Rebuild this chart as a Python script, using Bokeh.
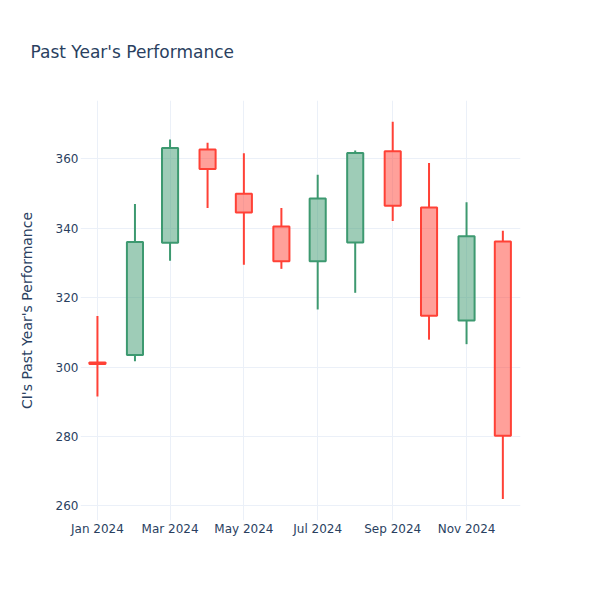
import numpy as np
import pandas as pd
from bokeh.plotting import figure
from bokeh.models import Range1d, MonthsTicker, DatetimeTickFormatter, FixedTicker, ColumnDataSource
from bokeh.embed import file_html
from bokeh.resources import INLINE

# ---- data (monthly candles) ----
dates = ["2024-01-01", "2024-02-01", "2024-03-01", "2024-04-01", "2024-05-01", "2024-06-01",
         "2024-07-01", "2024-08-01", "2024-09-01", "2024-10-01", "2024-11-01", "2024-12-01"]
opens = [301.3, 303.5, 335.8, 362.7, 349.9, 340.5, 330.5, 335.9, 362.2, 346.0, 313.4, 336.2]
highs = [314.7, 347.0, 365.6, 364.6, 361.6, 345.8, 355.4, 362.4, 370.7, 358.8, 347.5, 339.3]
lows = [291.5, 301.7, 330.6, 345.8, 329.5, 328.3, 316.6, 321.4, 342.1, 307.9, 306.6, 262.0]
closes = [300.9, 336.0, 363.1, 357.1, 344.5, 330.5, 348.6, 361.7, 346.5, 314.8, 337.7, 280.2]
y_ticks = [260, 280, 300, 320, 340, 360]

INC = "#3D9970"
DEC = "#FF4136"
FONT = "DejaVu Sans"
TXT = "#2a3f5f"
GRID = "#EBF0F8"

df = pd.DataFrame({"date": pd.to_datetime(dates), "open": opens, "high": highs,
                   "low": lows, "close": closes})
df["top"] = np.maximum(df["open"], df["close"])
df["bottom"] = np.minimum(df["open"], df["close"])
df["color"] = np.where(df["close"] >= df["open"], INC, DEC)

src = ColumnDataSource(df)

p = figure(width=600, height=600, x_axis_type="datetime", output_backend="svg",
           toolbar_location=None, title="Past Year's Performance",
           x_range=Range1d(pd.Timestamp("2023-12-18"), pd.Timestamp("2024-12-15 14:00")),
           y_range=Range1d(255.8, 376.8),
           min_border_left=80, min_border_right=80, min_border_top=100, min_border_bottom=80)
p.outline_line_color = None
p.background_fill_color = "white"

# title
p.title.text_font = FONT
p.title.text_font_size = "17px"
p.title.text_font_style = "normal"
p.title.text_color = TXT
p.title.offset = -50
p.title.standoff = 77

# wicks (drawn outside the body, as in the original)
p.segment(x0="date", y0="high", x1="date", y1="top", color="color", line_width=2, source=src)
p.segment(x0="date", y0="bottom", x1="date", y1="low", color="color", line_width=2, source=src)

# bodies
width_ms = 13.3 * 24 * 3600 * 1000
p.vbar(x="date", width=width_ms, top="top", bottom="bottom", fill_color="color",
       fill_alpha=0.5, line_color="color", line_width=2, source=src)

# axes
p.xaxis.ticker = MonthsTicker(months=[0, 2, 4, 6, 8, 10])
p.xaxis.formatter = DatetimeTickFormatter(months="%b %Y", days="%b %Y", years="%b %Y")
p.yaxis.ticker = FixedTicker(ticks=y_ticks)
p.yaxis.axis_label = "CI's Past Year's Performance"

for ax in (p.xaxis, p.yaxis):
    ax.axis_line_color = None
    ax.major_tick_line_color = None
    ax.minor_tick_line_color = None
    ax.major_tick_out = 0
    ax.major_tick_in = 0
    ax.minor_tick_out = 0
    ax.major_label_text_font = FONT
    ax.major_label_text_font_size = "12px"
    ax.major_label_text_color = TXT
    ax.axis_label_text_font = FONT
    ax.axis_label_text_font_size = "14px"
    ax.axis_label_text_font_style = "normal"
    ax.axis_label_text_color = TXT
p.xaxis.major_label_standoff = 1
p.yaxis.major_label_standoff = 2
p.yaxis.axis_label_standoff = 18

p.xgrid.grid_line_color = GRID
p.ygrid.grid_line_color = GRID
p.xgrid.grid_line_width = 1
p.ygrid.grid_line_width = 1

open("out.html", "w").write(file_html(p, INLINE))
